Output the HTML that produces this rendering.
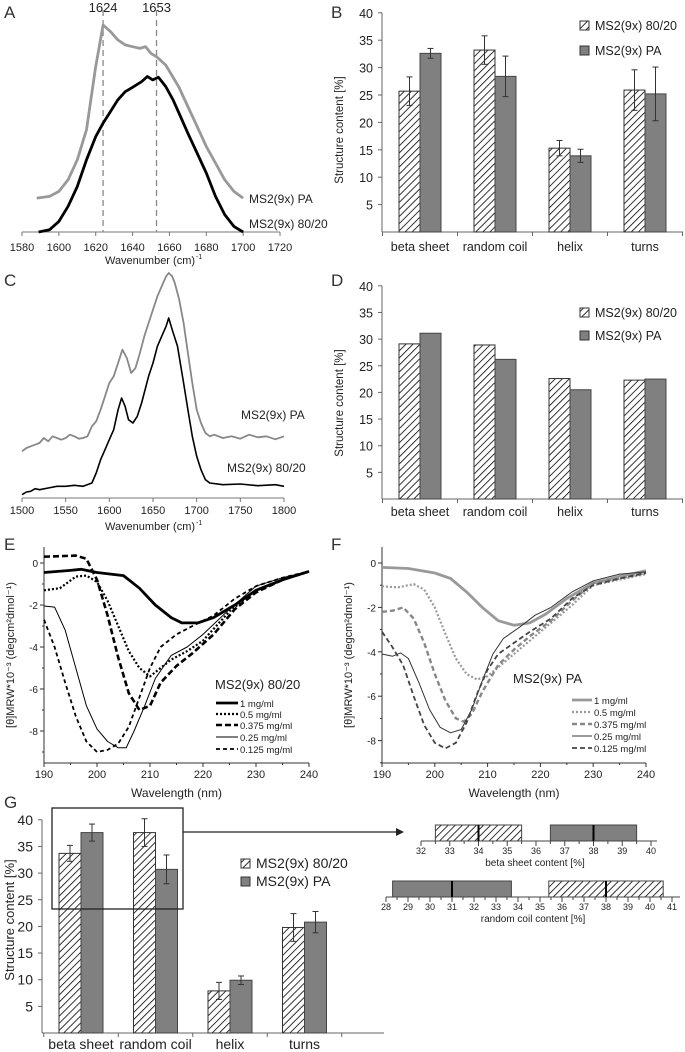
<!DOCTYPE html>
<html><head><meta charset="utf-8">
<style>
html,body{margin:0;padding:0;background:#fff;}
svg{display:block;font-family:"Liberation Sans",sans-serif;}
</style></head>
<body>
<svg id="fig" width="685" height="1052" viewBox="0 0 685 1052" xmlns="http://www.w3.org/2000/svg">
<defs>
<pattern id="hatch" patternUnits="userSpaceOnUse" width="5" height="5" patternTransform="rotate(45)">
<rect width="5" height="5" fill="#fff"/><line x1="0" y1="0" x2="0" y2="5" stroke="#000" stroke-width="1.6"/>
</pattern>
</defs>
</svg>
<script>
// ---- Panel A data (FTIR, relative intensity) ----
const aWave = [1588,1595,1600,1605,1610,1615,1620,1624,1628,1632,1636,1640,1644,1647,1650,1653,1658,1665,1670,1675,1680,1685,1690,1695,1700];
const aPA = [.164,.172,.196,.252,.349,.494,.799,1.0,.968,.928,.904,.895,.887,.895,.863,.847,.807,.703,.606,.510,.413,.333,.252,.196,.164];
const aWaveB = [1589,1595,1600,1605,1610,1615,1620,1624,1628,1632,1636,1640,1645,1648,1651,1654,1658,1662,1666,1670,1675,1680,1685,1690,1695,1700];
const a8020 = [0,.011,.051,.124,.220,.349,.461,.526,.582,.638,.678,.699,.727,.751,.735,.748,.703,.638,.558,.477,.381,.285,.172,.084,.027,0];
const aTicks = [1580,1600,1620,1640,1660,1680,1700,1720];
const aMarkers = [1624,1653];
// ---- Panel C data (Raman-like spectra, arbitrary height) ----
const cWavePA = [1500,1505,1510,1515,1520,1525,1530,1535,1540,1545,1550,1555,1560,1565,1570,1575,1580,1585,1590,1595,1600,1605,1610,1615,1620,1625,1630,1635,1640,1645,1650,1655,1660,1665,1668,1672,1675,1680,1685,1690,1695,1700,1705,1710,1715,1720,1730,1740,1750,1760,1770,1780,1790,1800];
const cPA = [140,150,155,160,165,180,170,185,180,175,180,190,185,178,180,185,215,230,265,305,345,365,405,445,420,375,390,435,485,525,565,605,635,665,675,665,645,595,525,435,345,265,225,195,185,190,180,185,178,190,182,185,176,185];
const cWave8020 = [1500,1505,1510,1515,1520,1530,1540,1550,1560,1570,1580,1585,1590,1595,1600,1605,1610,1614,1618,1622,1627,1632,1637,1645,1650,1655,1660,1665,1668,1672,1678,1685,1690,1695,1700,1705,1710,1715,1730,1750,1770,1790,1800];
const c8020 = [10,18,20,28,25,30,35,35,38,35,45,75,115,145,175,205,265,300,275,235,225,245,285,365,405,455,485,515,540,505,455,345,265,185,125,85,55,45,40,42,37,40,35];
const cTicks = [1500,1550,1600,1650,1700,1750,1800];
// ---- Bar data ----
const cats = ["beta sheet","random coil","helix","turns"];
const b8020 = [25.7,33.2,15.3,25.9];
const b8020Err = [2.6,2.6,1.4,3.7];
const bPA = [32.6,28.4,13.9,25.2];
const bPAErr = [0.9,3.7,1.2,4.9];
const d8020 = [29.1,28.9,22.6,22.3];
const dPA = [31.1,26.2,20.5,22.5];
const g8020 = [33.7,37.6,7.9,19.8];
const g8020Err = [1.5,2.6,1.6,2.6];
const gPA = [37.6,30.7,9.9,20.8];
const gPAErr = [1.6,2.7,0.8,2.0];
const barTicks = [5,10,15,20,25,30,35,40];
// ---- CD data (E) ----
const eLegend = ["1 mg/ml","0.5 mg/ml","0.375 mg/ml","0.25 mg/ml","0.125 mg/ml"];
const eW1 = [190,195,197,200,205,208,211,214,216,219,222,226,230,235,240];
const eV1 = [-0.45,-0.35,-0.3,-0.45,-0.6,-1.2,-2.0,-2.6,-2.85,-2.85,-2.6,-2.0,-1.3,-0.8,-0.4];
const eW2 = [190,193,196,198,200,202,204,206,208,210,212,214,217,220,225,230,235,240];
const eV2 = [-1.3,-1.2,-0.65,-0.6,-0.9,-1.8,-3.0,-4.2,-5.0,-5.4,-5.0,-4.6,-4.2,-3.7,-2.3,-1.3,-0.8,-0.4];
const eW3 = [190,196,198,200,202,204,206,208,210,212,215,218,222,226,230,235,240];
const eV3 = [0.3,0.35,0.2,-0.8,-2.5,-4.5,-6.2,-7.0,-6.8,-5.7,-4.9,-4.3,-3.4,-2.2,-1.4,-0.8,-0.4];
const eW4 = [190,192,194,196,198,200,202,204,205.5,207,209,211,214,217,220,225,230,235,240];
const eV4 = [-2.05,-2.1,-3.2,-5.0,-6.8,-7.9,-8.5,-8.8,-8.8,-8.0,-6.8,-5.5,-4.4,-4.0,-3.4,-2.2,-1.1,-0.7,-0.4];
const eW5 = [190,192,194,196,198,200,202,204,206,208,210,212,215,218,222,226,230,235,240];
const eV5 = [-2.7,-4.0,-5.7,-7.3,-8.5,-9.0,-8.9,-8.6,-7.8,-6.4,-5.0,-4.0,-3.4,-3.0,-2.5,-1.7,-1.1,-0.7,-0.4];
// ---- CD data (F) ----
const fW1 = [190,195,200,203,206,209,212,215,218,221,225,230,235,240];
const fV1 = [-0.2,-0.25,-0.45,-0.7,-1.3,-2.0,-2.6,-2.8,-2.7,-2.3,-1.6,-0.9,-0.6,-0.35];
const fW2 = [190,193,196,198,200,202,204,206,208,210,212,215,218,222,226,230,235,240];
const fV2 = [-1.05,-1.1,-0.95,-1.2,-2.0,-3.2,-4.3,-5.0,-5.25,-5.1,-4.7,-4.1,-3.5,-2.7,-1.9,-1.0,-0.75,-0.5];
const fW3 = [190,192,194,196,198,200,202,204,205.5,207,209,212,215,218,222,226,230,235,240];
const fV3 = [-2.2,-2.15,-2.0,-2.5,-3.6,-5.0,-6.2,-7.0,-7.15,-6.8,-5.8,-4.6,-3.9,-3.3,-2.6,-1.7,-0.9,-0.7,-0.45];
const fW4 = [190,192,193.5,195,197,199,201,203,205,207,209,211,213,216,219,222,226,230,235,240];
const fV4 = [-4.1,-4.2,-4.05,-4.3,-5.4,-6.6,-7.4,-7.65,-7.5,-6.6,-5.3,-4.1,-3.4,-2.9,-2.35,-2.0,-1.3,-0.8,-0.5,-0.4];
const fW5 = [190,192,194,196,198,200,202,204,206,208,210,212,215,218,222,226,230,235,240];
const fV5 = [-3.1,-3.8,-4.6,-6.0,-7.3,-8.1,-8.35,-8.1,-7.2,-5.9,-4.8,-4.1,-3.6,-3.1,-2.5,-1.6,-1.0,-0.7,-0.45];
const cdXTicks = [190,200,210,220,230,240];
const cdYTicks = [0,-2,-4,-6,-8];
// ---- Inset box data ----
const betaLow = [32.5,36.5], betaHigh = [35.5,39.5], betaMed = [34,38];
const coilLow = [35.4,28.3], coilHigh = [40.6,33.7], coilMed = [38,31];
const betaTicks = [32,33,34,35,36,37,38,39,40];
const coilTicks = [28,29,30,31,32,33,34,35,36,37,38,39,40,41];

const NS = "http://www.w3.org/2000/svg";
const svg = document.getElementById('fig');
function mk(tag, attrs, parent){
  const e = document.createElementNS(NS, tag);
  for (const k in attrs) e.setAttribute(k, attrs[k]);
  (parent || svg).appendChild(e);
  return e;
}
function txt(x, y, s, size, anchor, name, extra){
  const t = mk('text', Object.assign({x:x, y:y, 'font-size':size, 'text-anchor':anchor||'start', fill:'#222'}, extra||{}));
  t.textContent = s;
  
  
  return t;
}
function line(x1,y1,x2,y2,name,stroke,w,dash){
  const l = mk('line',{x1:x1,y1:y1,x2:x2,y2:y2,stroke:stroke||'#555','stroke-width':w||1});
  if (dash) l.setAttribute('stroke-dasharray', dash);
  
  
  return l;
}
function curve(xs, vs, sx, sy, name, stroke, w, dash){
  let d = '';
  for (let i=0;i<xs.length;i++) d += (i?'L':'M') + sx(xs[i]).toFixed(1) + ',' + sy(vs[i]).toFixed(1);
  const p = mk('path',{d:d, fill:'none', stroke:stroke, 'stroke-width':w, 'stroke-linejoin':'round'});
  if (dash) p.setAttribute('stroke-dasharray', dash);
  
  
  return p;
}

// Panel letters
[["A",4,18],["B",331,18],["C",4,286],["D",331,286],["E",4,550],["F",331,550],["G",4,808]].forEach(function(L){
  const t = txt(L[1], L[2], L[0], 17, 'start', 'panel-label-'+L[0].toLowerCase(), {fill:'#333'});
});

// ===== Panel A =====
const xA = w => 22 + (w-1580)*(280-22)/140;
const yA = f => 232 - f*207;
line(xA(1580),232,xA(1720),232,'a-x-axis','#777',1);
aTicks.forEach(function(t){
  line(xA(t),232,xA(t),236,'a-x-tick','#777',1);
  txt(xA(t),251,String(t),11,'middle','a-x-tick-label');
});
aMarkers.forEach(function(m){
  line(xA(m),10,xA(m),232,'a-peak-marker-'+m,'#888',1.3,'6,4');
  txt(xA(m),12,String(m),13,'middle','a-peak-label-'+m);
});
curve(aWave,aPA,xA,yA,'a-ms2-pa-curve','#999',2.8);
curve(aWaveB,a8020,xA,yA,'a-ms2-8020-curve','#000',2.8);
txt(249,203,'MS2(9x) PA',12,'start','a-label-pa');
txt(249,228,'MS2(9x) 80/20',12,'start','a-label-8020');
const at = txt(150,264,'Wavenumber (cm)',11,'middle','a-x-axis-title');
txt(196,259,'-1',7,'start','a-x-axis-title-exp');

// ===== Panel C =====
const xC = w => 22 + (w-1500)*(284-22)/300;
const yC = h => 498 - h/3;
line(xC(1500),498,xC(1800),498,'c-x-axis','#777',1);
cTicks.forEach(function(t){
  line(xC(t),498,xC(t),502,'c-x-tick','#777',1);
  txt(xC(t),514,String(t),11,'middle','c-x-tick-label');
});
curve(cWavePA,cPA,xC,yC,'c-ms2-pa-curve','#888',1.8);
curve(cWave8020,c8020,xC,yC,'c-ms2-8020-curve','#000',1.6);
txt(241,419,'MS2(9x) PA',12,'start','c-label-pa');
txt(227,472,'MS2(9x) 80/20',12,'start','c-label-8020');
txt(150,530,'Wavenumber (cm)',11,'middle','c-x-axis-title');
txt(196,525,'-1',7,'start','c-x-axis-title-exp');

// ===== Bar charts =====
function bars(p, v1, e1, v2, e2){
  const yv = v => p.y0 - v*p.k;
  line(p.x0,p.y0,p.x0,yv(40),p.id+'-y-axis','#666',1);
  line(p.x0,p.y0,p.x1,p.y0,p.id+'-x-axis','#666',1);
  barTicks.forEach(function(t){
    line(p.x0-4,yv(t),p.x0,yv(t),p.id+'-y-tick','#666',1);
    txt(p.x0-9,yv(t)+5,String(t),p.fs,'end',p.id+'-y-tick-label');
  });
  for (let i=0;i<=cats.length;i++) line(p.c0-p.sp/2+i*p.sp,p.y0,p.c0-p.sp/2+i*p.sp,p.y0+4,p.id+'-x-tick','#666',1);
  cats.forEach(function(c,i){
    const cx = p.c0 + i*p.sp;
    const r1 = mk('rect',{x:cx-p.bw,y:yv(v1[i]),width:p.bw,height:v1[i]*p.k,fill:'url(#hatch)',stroke:'#333','stroke-width':1});
    
    
    const r2 = mk('rect',{x:cx,y:yv(v2[i]),width:p.bw,height:v2[i]*p.k,fill:'#808080',stroke:'#444','stroke-width':1});
    
    
    if (e1){
      [[cx-p.bw/2,v1[i],e1[i]],[cx+p.bw/2,v2[i],e2[i]]].forEach(function(q){
        line(q[0],yv(q[1]+q[2]),q[0],yv(q[1]-q[2]),p.id+'-error-bar','#333',1);
        line(q[0]-3,yv(q[1]+q[2]),q[0]+3,yv(q[1]+q[2]),p.id+'-error-cap','#333',1);
        line(q[0]-3,yv(q[1]-q[2]),q[0]+3,yv(q[1]-q[2]),p.id+'-error-cap','#333',1);
      });
    }
    txt(cx,p.ly,c,p.fs,'middle',p.id+'-category-label');
  });
  const yt = txt(0,0,'Structure content [%]',p.fs-1,'middle',p.id+'-y-axis-title');
  yt.setAttribute('transform','translate('+p.tx+','+p.ty+') rotate(-90)');
  const l1 = mk('rect',{x:p.lx,y:p.lg1-9,width:9,height:9,fill:'url(#hatch)',stroke:'#333'});
  
  
  txt(p.lx+15,p.lg1,'MS2(9x) 80/20',p.fs,'start',p.id+'-legend-label-8020');
  const l2 = mk('rect',{x:p.lx,y:p.lg2-9,width:9,height:9,fill:'#808080',stroke:'#333'});
  
  
  txt(p.lx+15,p.lg2,'MS2(9x) PA',p.fs,'start',p.id+'-legend-label-pa');
}
bars({id:'b',x0:382,x1:683,y0:232,k:5.48,c0:420,sp:75,bw:21,ly:251,fs:12.5,tx:343,ty:130,lx:580,lg1:30,lg2:55},b8020,b8020Err,bPA,bPAErr);
bars({id:'d',x0:382,x1:683,y0:499,k:5.33,c0:420,sp:75,bw:21,ly:516,fs:12.5,tx:343,ty:403,lx:580,lg1:317,lg2:340},d8020,null,dPA,null);
bars({id:'g',x0:42,x1:384,y0:1033,k:5.33,c0:81,sp:74.5,bw:22,ly:1049,fs:14,tx:14,ty:920,lx:241,lg1:868,lg2:886},g8020,g8020Err,gPA,gPAErr);

// ===== CD panels =====
function cd(p, series){
  const sx = w => p.x0 + (w-190)*(p.x1-p.x0)/50;
  const sy = v => p.yz - v*p.k;
  line(p.x0,547,p.x0,763,p.id+'-y-axis','#333',1);
  line(p.x0,763,p.x1,763,p.id+'-x-axis','#333',1);
  cdXTicks.forEach(function(t){
    line(sx(t),763,sx(t),767,p.id+'-x-tick','#333',1);
    if (t<240) line(sx(t+5),763,sx(t+5),765,p.id+'-x-minor-tick','#333',1);
    txt(sx(t),778,String(t),11,'middle',p.id+'-x-tick-label');
  });
  cdYTicks.forEach(function(t){
    line(p.x0-4,sy(t),p.x0,sy(t),p.id+'-y-tick','#333',1);
    line(p.x0-2,sy(t-1),p.x0,sy(t-1),p.id+'-y-minor-tick','#333',1);
    txt(p.x0-6,sy(t)+4,String(t),10,'end',p.id+'-y-tick-label');
  });
  txt((p.x0+p.x1)/2,797,'Wavelength (nm)',12,'middle',p.id+'-x-axis-title');
  const yt = txt(0,0,'[θ]MRW*10⁻³ (degcm²dmol⁻¹)',11,'middle',p.id+'-y-axis-title');
  yt.setAttribute('transform','translate('+p.tx+',655) rotate(-90)');
  txt(p.lt,p.ltY,p.title,13,'start',p.id+'-legend-title');
  series.forEach(function(s,i){
    curve(s[0],s[1],sx,sy,p.id+'-curve-'+i,s[2],s[3],s[4]);
    const ly = p.legY[i];
    const l = line(p.lx0,ly-4,p.lx1,ly-4,p.id+'-legend-line-'+i,s[2],s[3],s[4]);
    txt(p.lx1+2,ly,eLegend[i],9.5,'start',p.id+'-legend-label-'+i);
  });
}
cd({id:'e',x0:44,x1:309,yz:563,k:21,tx:14,title:'MS2(9x) 80/20',lt:215,ltY:689,lx0:216,lx1:238,legY:[707,718,729,741,753]},[
  [eW1,eV1,'#000',2.8,null],[eW2,eV2,'#000',2.2,'2,2'],[eW3,eV3,'#000',2.6,'6,3'],[eW4,eV4,'#000',1,null],[eW5,eV5,'#000',1.8,'4,3']]);
cd({id:'f',x0:382,x1:646,yz:563,k:22.2,tx:352,title:'MS2(9x) PA',lt:513,ltY:683,lx0:572,lx1:592,legY:[704,716,728,740,752]},[
  [fW1,fV1,'#999',2.8,null],[fW2,fV2,'#999',2.2,'2,2'],[fW3,fV3,'#888',2.4,'5,3'],[fW4,fV4,'#333',1,null],[fW5,fV5,'#444',1.8,'5,3']]);

// ===== G zoom box + arrow =====
const zr = mk('rect',{x:52,y:808,width:131,height:101,fill:'none',stroke:'#222','stroke-width':1.3});


line(183,832,398,832,'g-zoom-arrow','#222',1.3);
const ah = mk('path',{d:'M404,832 L396,828 L396,836 Z',fill:'#222'});



// ===== Insets =====
function inset(p, lo, hi, med, ticks, title){
  const sx = v => p.x0 + (v-ticks[0])*p.k;
  line(sx(ticks[0]),p.ay,p.xe,p.ay,p.id+'-axis','#444',1);
  ticks.forEach(function(t){
    line(sx(t),p.ay,sx(t),p.ay+5,p.id+'-tick','#444',1);
    if (t<ticks[ticks.length-1]) line(sx(t+0.5),p.ay,sx(t+0.5),p.ay+3,p.id+'-minor-tick','#444',1);
    txt(sx(t),p.ay+13,String(t),9,'middle',p.id+'-tick-label');
  });
  [0,1].forEach(function(i){
    const b = mk('rect',{x:sx(lo[i]),y:p.ay-16,width:sx(hi[i])-sx(lo[i]),height:16,fill:p.fills[i],stroke:'#444','stroke-width':1});
    
    
    line(sx(med[i]),p.ay-16,sx(med[i]),p.ay,p.id+'-median-'+i,'#000',2);
  });
  txt(p.tx,p.ay+25,title,10,'middle',p.id+'-title');
}
inset({id:'beta-inset',x0:421,k:28.75,ay:841,xe:657,fills:['url(#hatch)','#808080'],tx:535},betaLow,betaHigh,betaMed,betaTicks,'beta sheet content [%]');
inset({id:'coil-inset',x0:386,k:22,ay:897,xe:680,fills:['url(#hatch)','#808080'],tx:533},coilLow,coilHigh,coilMed,coilTicks,'random coil content [%]');
</script>
</body></html>
